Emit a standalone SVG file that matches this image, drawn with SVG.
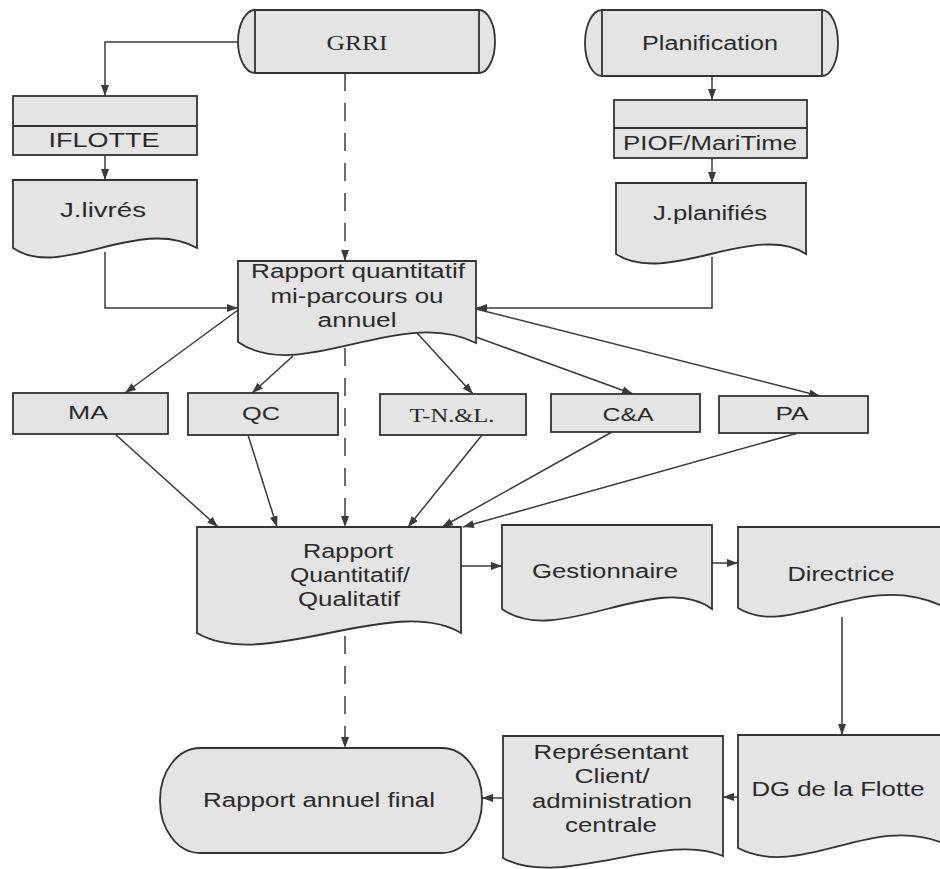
<svg xmlns="http://www.w3.org/2000/svg" width="940" height="869" viewBox="0 0 940 869">
<defs>
<marker id="ah" markerWidth="12" markerHeight="10" refX="11" refY="5" orient="auto" markerUnits="userSpaceOnUse">
<path d="M0,1 L11,5 L0,9 Z" fill="#3a3a3a"/>
</marker>
<style>
.shape{fill:#e4e4e4;stroke:#333;stroke-width:1.8}
.ln{fill:none;stroke:#333;stroke-width:1.8}
.c{fill:none;stroke:#3a3a3a;stroke-width:1.5;marker-end:url(#ah)}
.d{stroke-dasharray:18 12}
.t{font-family:"Liberation Sans",Arial,sans-serif;font-size:20px;fill:#2a2a2a;text-anchor:middle}
.s{font-family:"Liberation Serif","Times New Roman",serif;font-size:20px;fill:#2a2a2a;text-anchor:middle}
.sm{font-size:18px}
</style>
</defs>
<rect width="940" height="869" fill="#fff"/>
<g id="connectors">
<path class="c" d="M238,42 H105 V96"/>
<path class="c" d="M105,155 V180"/>
<path class="c" d="M105,252 V308 H238"/>
<path class="c" d="M712,77 V100"/>
<path class="c" d="M712,158 V183"/>
<path class="c" d="M712,257 V308 H476"/>
<path class="c d" d="M345,73 V261"/>
<path class="c" d="M238,310 L125,393"/>
<path class="c" d="M293,356 L252,393"/>
<path class="c" d="M417,333 L473,394"/>
<path class="c" d="M476,337 L633,394"/>
<path class="c" d="M476,309 L820,396"/>
<path class="c" d="M115,434 L218,527"/>
<path class="c" d="M248,435 L277,527"/>
<path class="c" d="M482,435 L408,527"/>
<path class="c" d="M612,432 L442,527"/>
<path class="c" d="M798,433 L463,527"/>
<path class="c d" d="M345,348 V527"/>
<path class="c" d="M461,566 H502"/>
<path class="c" d="M712,563 H738"/>
<path class="c" d="M842,617 V735"/>
<path class="c" d="M738,797 H723"/>
<path class="c" d="M503,798 H482"/>
<path class="c d" d="M345,636 V748"/>
</g>
<g id="grri">
<path class="shape" d="M255,10 H479 A16,31.5 0 0 1 479,73 H255 A17,31.5 0 0 1 255,10 Z"/>
<path class="ln" d="M255,10 V73 M479,10 V73"/>
<text class="s" x="357" y="50" font-size="21" textLength="61" lengthAdjust="spacingAndGlyphs">GRRI</text>
</g>
<g id="planification">
<path class="shape" d="M602,10 H822 A16,33 0 0 1 822,76 H602 A17,33 0 0 1 602,10 Z"/>
<path class="ln" d="M602,10 V76 M822,10 V76"/>
<text class="t" x="710" y="50" textLength="136" lengthAdjust="spacingAndGlyphs">Planification</text>
</g>
<g id="iflotte">
<rect class="shape" x="13" y="96" width="184" height="59"/>
<path class="ln" d="M13,126 H197"/>
<text class="t" x="104" y="147" textLength="111" lengthAdjust="spacingAndGlyphs">IFLOTTE</text>
</g>
<g id="jlivres">
<path class="shape" d="M13,180 H197 V248 C138,215 61,281 13,248 Z"/>
<text class="t" x="103" y="217" textLength="86" lengthAdjust="spacingAndGlyphs">J.livrés</text>
</g>
<g id="piof">
<rect class="shape" x="614" y="100" width="193" height="58"/>
<path class="ln" d="M614,128 H807"/>
<text class="t" x="710" y="150" textLength="174" lengthAdjust="spacingAndGlyphs">PIOF/MariTime</text>
</g>
<g id="jplanifies">
<path class="shape" d="M616,183 H806 V254 C757,221 665,287 616,254 Z"/>
<text class="t" x="710" y="220" textLength="114" lengthAdjust="spacingAndGlyphs">J.planifiés</text>
</g>
<g id="rapport-quantitatif">
<path class="shape" d="M238,261 H476 V343 C400,305 300,385 238,342 Z"/>
<text class="t" x="358" y="278" font-size="19" textLength="214" lengthAdjust="spacingAndGlyphs">Rapport quantitatif</text>
<text class="t" x="357" y="303" font-size="19" textLength="173" lengthAdjust="spacingAndGlyphs">mi-parcours ou</text>
<text class="t" x="357" y="327" font-size="19" textLength="79" lengthAdjust="spacingAndGlyphs">annuel</text>
</g>
<g id="ma">
<rect class="shape" x="13" y="393" width="155" height="41"/>
<text class="t sm" x="88" y="419" textLength="40" lengthAdjust="spacingAndGlyphs">MA</text>
</g>
<g id="qc">
<rect class="shape" x="188" y="393" width="150" height="42"/>
<text class="t sm" x="261" y="420" textLength="38" lengthAdjust="spacingAndGlyphs">QC</text>
</g>
<g id="tnl">
<rect class="shape" x="380" y="394" width="146" height="41"/>
<text class="s sm" x="452" y="422" textLength="85" lengthAdjust="spacingAndGlyphs">T-N.&amp;L.</text>
</g>
<g id="ca">
<rect class="shape" x="551" y="394" width="149" height="38"/>
<text class="t sm" x="628" y="421" textLength="51" lengthAdjust="spacingAndGlyphs">C&amp;A</text>
</g>
<g id="pa">
<rect class="shape" x="719" y="396" width="149" height="37"/>
<text class="t sm" x="792" y="420" textLength="33" lengthAdjust="spacingAndGlyphs">PA</text>
</g>
<g id="rapport-qq">
<path class="shape" d="M197,527 H461 V633 C393,593 265,673 197,633 Z"/>
<text class="t" x="348" y="558" textLength="90" lengthAdjust="spacingAndGlyphs">Rapport</text>
<text class="t" x="350" y="582" textLength="120" lengthAdjust="spacingAndGlyphs">Quantitatif/</text>
<text class="t" x="349" y="606" textLength="102" lengthAdjust="spacingAndGlyphs">Qualitatif</text>
</g>
<g id="gestionnaire">
<path class="shape" d="M502,525 H712 V609 C657,569 557,649 502,609 Z"/>
<text class="t" x="605" y="578" textLength="146" lengthAdjust="spacingAndGlyphs">Gestionnaire</text>
</g>
<g id="directrice">
<path class="shape" d="M738,527 H960 V610 L940,605 C860,570 790,640 738,608 Z"/>
<text class="t" x="841" y="581" textLength="107" lengthAdjust="spacingAndGlyphs">Directrice</text>
</g>
<g id="dg">
<path class="shape" d="M738,735 H960 V846 L940,842 C870,815 800,880 738,848 Z"/>
<text class="t" x="838" y="796" textLength="173" lengthAdjust="spacingAndGlyphs">DG de la Flotte</text>
</g>
<g id="representant">
<path class="shape" d="M503,736 H723 V856 C665,830 560,890 503,858 Z"/>
<text class="t" x="611" y="759" textLength="155" lengthAdjust="spacingAndGlyphs">Représentant</text>
<text class="t" x="612" y="783" textLength="75" lengthAdjust="spacingAndGlyphs">Client/</text>
<text class="t" x="612" y="808" textLength="160" lengthAdjust="spacingAndGlyphs">administration</text>
<text class="t" x="611" y="832" textLength="92" lengthAdjust="spacingAndGlyphs">centrale</text>
</g>
<g id="rapport-annuel-final">
<rect class="shape" x="160" y="748" width="322" height="105" rx="40" ry="52"/>
<text class="t" x="319" y="807" textLength="232" lengthAdjust="spacingAndGlyphs">Rapport annuel final</text>
</g>
</svg>
